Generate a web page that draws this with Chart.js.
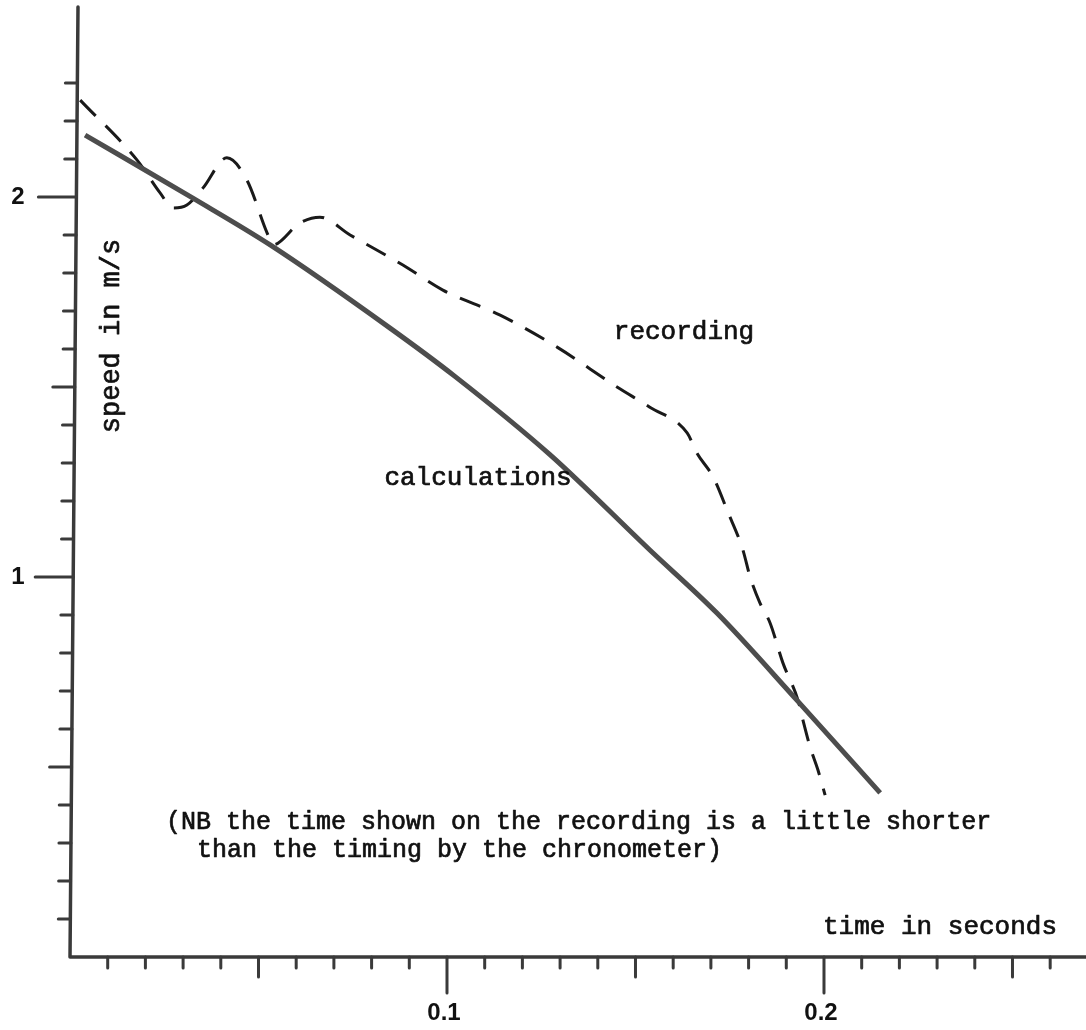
<!DOCTYPE html>
<html lang="en">
<head>
    <meta charset="UTF-8">
    <title>Speed against time</title>
    <script src="https://cdn.jsdelivr.net/npm/chart.js"></script>
    <style>
        body { margin: 0; background: #fff; }
        #wrap { width: 1086px; height: 1030px; }
    </style>
</head>
<body>
    <div id="wrap"><canvas id="speedChart" width="1086" height="1030"></canvas></div>
<script>
    // time in seconds / speed in m/s
    let calcTime  = [0.0040, 0.0326, 0.0531, 0.0849, 0.1021, 0.1273, 0.1538, 0.1716, 0.1928, 0.2149];
    let calcSpeed = [2.163, 1.997, 1.874, 1.655, 1.528, 1.322, 1.071, 0.905, 0.676, 0.432];

    let recTime  = [0.0027, 0.0178, 0.0239, 0.0273, 0.0310, 0.0353, 0.0416, 0.0469, 0.0523, 0.0538, 0.0610, 0.0663, 0.0743, 0.0883, 0.0989, 0.1141, 0.1292, 0.1451, 0.1538, 0.1637, 0.1663, 0.1706, 0.1745, 0.1785, 0.1804, 0.1830, 0.1857, 0.1891, 0.1931, 0.1944, 0.1963, 0.1984, 0.2003];
    let recSpeed = [2.255, 2.097, 2.011, 1.971, 1.979, 2.024, 2.103, 2.045, 1.905, 1.874, 1.932, 1.947, 1.900, 1.821, 1.755, 1.689, 1.605, 1.500, 1.447, 1.379, 1.326, 1.263, 1.171, 1.071, 1.000, 0.932, 0.879, 0.774, 0.676, 0.624, 0.553, 0.492, 0.426];

    let yTicks = [0.1, 0.2, 0.3, 0.4, 0.5, 0.6, 0.7, 0.8, 0.9, 1.0, 1.1, 1.2, 1.3, 1.4, 1.5, 1.6, 1.7, 1.8, 1.9, 2.0, 2.1, 2.2, 2.3];
    let yHalfTicks = [0.5, 1.5];
    let yLabelValues = [1, 2];
    let yLabels = ['1', '2'];

    let xTicks = [0.01, 0.02, 0.03, 0.04, 0.05, 0.06, 0.07, 0.08, 0.09, 0.10, 0.11, 0.12, 0.13, 0.14, 0.15, 0.16, 0.17, 0.18, 0.19, 0.20, 0.21, 0.22, 0.23, 0.24, 0.25, 0.26];
    let xHalfTicks = [0.05, 0.15, 0.25];
    let xLabelValues = [0.1, 0.2];
    let xLabels = ['0.1', '0.2'];

    const mono = '"Liberation Mono", "DejaVu Sans Mono", monospace';
    const sans = '"Liberation Sans", Arial, sans-serif';

    function has(list, v) {
        return list.some(a => Math.abs(a - v) < 1e-6);
    }

    // typewriter text is a bit heavier than the plain font
    function typed(ctx, text, x, y) {
        ctx.fillText(text, x, y);
        ctx.strokeText(text, x, y);
    }

    const paperAxes = {
        id: 'paperAxes',
        afterDraw(chart) {
            let ctx = chart.ctx;
            let xs = chart.scales.x, ys = chart.scales.y;
            let area = chart.chartArea;
            let bottom = ys.getPixelForValue(0);
            let top = ys.getPixelForValue(2.5);
            // the y axis on the paper leans slightly
            let axisX = py => area.left + 8 * (bottom - py) / (bottom - top);

            ctx.save();
            ctx.strokeStyle = '#3a3a3a';
            ctx.lineCap = 'round';
            ctx.lineJoin = 'round';
            ctx.lineWidth = 3.5;
            ctx.beginPath();
            ctx.moveTo(axisX(top), top);
            ctx.lineTo(area.left, bottom);
            ctx.lineTo(chart.width, bottom);
            ctx.stroke();

            ctx.lineWidth = 3;
            yTicks.forEach(v => {
                let py = ys.getPixelForValue(v);
                let len = has(yLabelValues, v) ? 38 : has(yHalfTicks, v) ? 22 : 12;
                ctx.beginPath();
                ctx.moveTo(axisX(py), py);
                ctx.lineTo(axisX(py) - len, py);
                ctx.stroke();
            });
            xTicks.forEach(v => {
                let px = xs.getPixelForValue(v);
                let len = has(xLabelValues, v) ? 36 : has(xHalfTicks, v) ? 20 : 11;
                ctx.beginPath();
                ctx.moveTo(px, bottom);
                ctx.lineTo(px, bottom + len);
                ctx.stroke();
            });

            ctx.fillStyle = '#111';
            ctx.strokeStyle = '#111';
            ctx.font = 'bold 24px ' + sans;
            ctx.textAlign = 'center';
            ctx.textBaseline = 'middle';
            yLabelValues.forEach((v, i) => {
                ctx.fillText(yLabels[i], 18, ys.getPixelForValue(v));
            });
            xLabelValues.forEach((v, i) => {
                ctx.fillText(xLabels[i], xs.getPixelForValue(v) - 3, bottom + 56);
            });

            ctx.lineWidth = 0.7;
            ctx.font = '26px ' + mono;
            typed(ctx, 'recording', 684, 332);
            typed(ctx, 'calculations', 478, 478);
            typed(ctx, 'time in seconds', 940, 927);
            ctx.textAlign = 'left';
            ctx.font = '25px ' + mono;
            typed(ctx, '(NB the time shown on the recording is a little shorter', 166, 822);
            typed(ctx, 'than the timing by the chronometer)', 197, 850);

            ctx.font = '27px ' + mono;
            ctx.translate(112, 336);
            ctx.rotate(-Math.PI / 2);
            ctx.textAlign = 'center';
            typed(ctx, 'speed in m/s', 0, 0);
            ctx.restore();
        }
    };

    new Chart(document.getElementById('speedChart'), {
        type: 'line',
        data: {
            datasets: [
                {
                    label: 'calculations',
                    data: calcTime.map((t, i) => ({ x: t, y: calcSpeed[i] })),
                    borderColor: '#4d4d4d',
                    borderWidth: 5,
                    pointRadius: 0,
                    cubicInterpolationMode: 'monotone',
                    fill: false
                },
                {
                    label: 'recording',
                    data: recTime.map((t, i) => ({ x: t, y: recSpeed[i] })),
                    borderColor: '#1a1a1a',
                    borderWidth: 3,
                    borderDash: [22, 14],
                    pointRadius: 0,
                    cubicInterpolationMode: 'monotone',
                    fill: false
                }
            ]
        },
        options: {
            responsive: false,
            animation: false,
            layout: { padding: { left: 70, top: 7, right: 0, bottom: 73 } },
            plugins: { legend: { display: false }, tooltip: { enabled: false } },
            scales: {
                x: { type: 'linear', min: 0, max: 0.2695, display: false },
                y: { type: 'linear', min: 0, max: 2.5, display: false }
            }
        },
        plugins: [paperAxes]
    });
</script>
</body>
</html>
